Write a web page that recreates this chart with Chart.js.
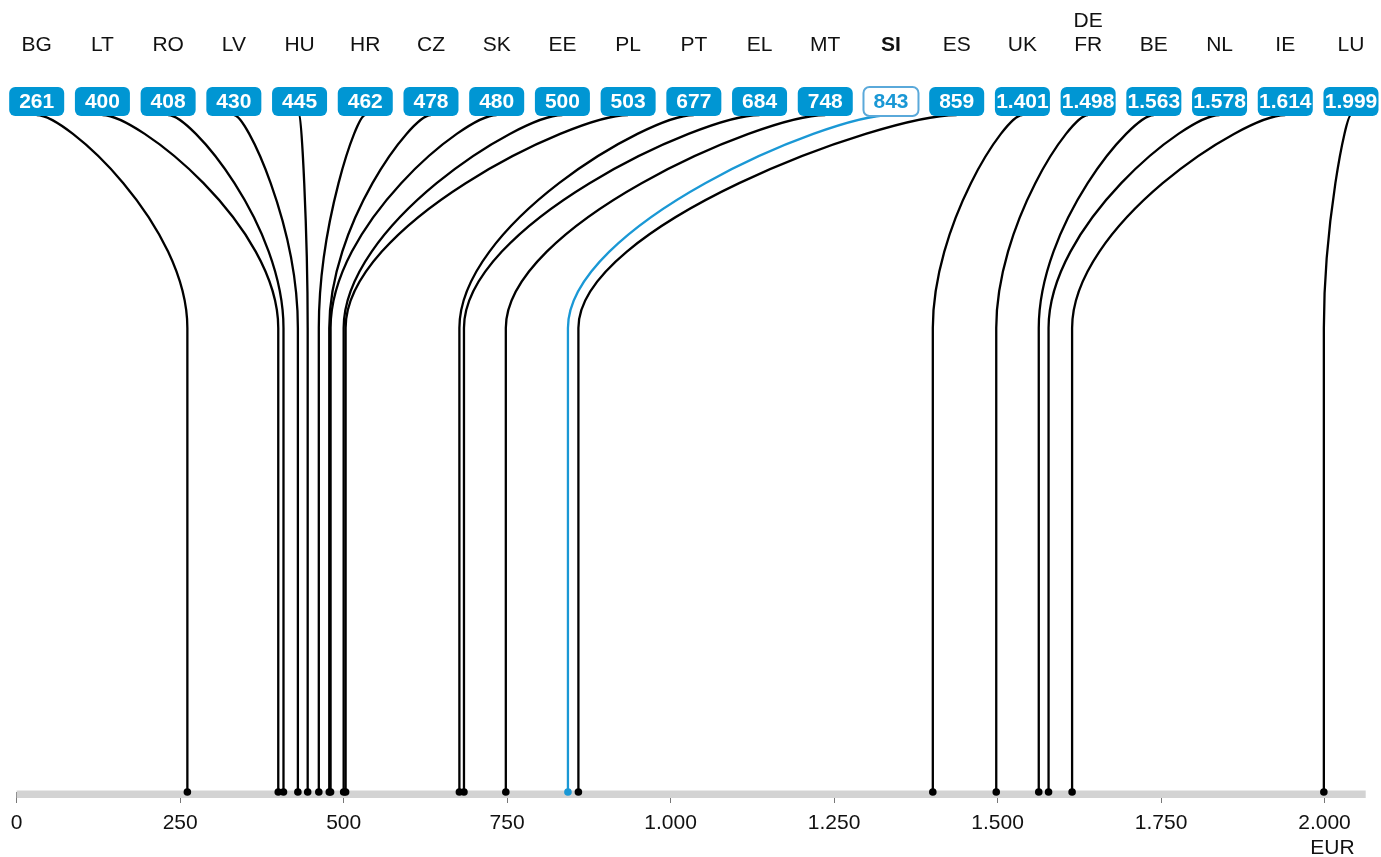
<!DOCTYPE html>
<html>
<head>
<meta charset="utf-8">
<script src="https://cdn.jsdelivr.net/npm/chart.js@4.4.1/dist/chart.umd.min.js"></script>
<style>
  html, body { margin: 0; padding: 0; background: #fff; }
  #chart { display: block; }
</style>
</head>
<body>
<canvas id="chart" width="1381" height="857"></canvas>
<script>
// data
const countries = ['BG', 'LT', 'RO', 'LV', 'HU', 'HR', 'CZ', 'SK', 'EE', 'PL', 'PT', 'EL', 'MT', 'SI', 'ES', 'UK', 'DE/FR', 'BE', 'NL', 'IE', 'LU'];
const values = [261, 400, 408, 430, 445, 462, 478, 480, 500, 503, 677, 684, 748, 843, 859, 1401, 1498, 1563, 1578, 1614, 1999];
const xTicks = [0, 250, 500, 750, 1000, 1250, 1500, 1750, 2000];
const highlight = 'SI';
const unit = 'EUR';

const AXIS_MAX = 2063;
const BLUE = '#0096d3';
const LINE_BLUE = '#1a98d5';
const FONT = 'Liberation Sans, Arial, sans-serif';

// layout of the top rows (pixels)
const LABEL_Y = 45;
const LABEL_LINE = 24;
const BADGE_TOP = 87;
const BADGE_H = 29;
const BADGE_W = 55;
const CURVE_TOP = 115;
const KNEE_Y = 328;

const fmt = v => String(v).replace(/\B(?=(\d{3})+(?!\d))/g, '.');

const curvesPlugin = {
  id: 'curves',
  beforeDatasetsDraw(chart) {
    const ctx = chart.ctx;
    const x = chart.scales.x;
    const slot = chart.scales.slot;
    const bottom = chart.chartArea.bottom;
    ctx.save();

    // grey axis band
    ctx.fillStyle = '#d3d3d3';
    const x0 = x.getPixelForValue(0);
    ctx.fillRect(x0, bottom - 1.5, x.getPixelForValue(AXIS_MAX) - x0, 7.5);

    // connector lines
    values.forEach((v, i) => {
      const bx = slot.getPixelForValue(i);
      const vx = x.getPixelForValue(v);
      const dx = vx - bx, dy = KNEE_Y - CURVE_TOP;
      ctx.beginPath();
      ctx.moveTo(bx, CURVE_TOP);
      ctx.bezierCurveTo(bx + 0.2 * dx, CURVE_TOP, vx, CURVE_TOP + 0.52 * dy, vx, KNEE_Y);
      ctx.lineTo(vx, bottom);
      ctx.strokeStyle = countries[i] === highlight ? LINE_BLUE : '#000';
      ctx.lineWidth = 2.3;
      ctx.stroke();
    });

    // badges + country labels
    ctx.textAlign = 'center';
    ctx.textBaseline = 'middle';
    values.forEach((v, i) => {
      const bx = slot.getPixelForValue(i);
      const hi = countries[i] === highlight;
      ctx.beginPath();
      ctx.roundRect(bx - BADGE_W / 2, BADGE_TOP, BADGE_W, BADGE_H, 6);
      if (hi) {
        ctx.fillStyle = '#fff';
        ctx.fill();
        ctx.strokeStyle = '#5aa9da';
        ctx.lineWidth = 2;
        ctx.stroke();
      } else {
        ctx.fillStyle = BLUE;
        ctx.fill();
      }
      ctx.fillStyle = hi ? LINE_BLUE : '#fff';
      ctx.font = 'bold 21px ' + FONT;
      ctx.fillText(fmt(v), bx, BADGE_TOP + BADGE_H / 2 + 1, BADGE_W - 2);

      const lines = countries[i].split('/');
      ctx.fillStyle = '#111';
      ctx.font = (hi ? 'bold ' : '') + '21px ' + FONT;
      lines.forEach((t, k) => {
        ctx.fillText(t, bx, LABEL_Y - (lines.length - 1 - k) * LABEL_LINE);
      });
    });
    ctx.restore();
  },
  afterDraw(chart) {
    const ctx = chart.ctx;
    const x = chart.scales.x;
    ctx.save();
    ctx.font = '21px ' + FONT;
    ctx.fillStyle = '#111';
    ctx.textAlign = 'center';
    ctx.textBaseline = 'middle';
    ctx.fillText(unit, x.getPixelForValue(xTicks[xTicks.length - 1]) + 8, 848);
    ctx.restore();
  }
};

new Chart(document.getElementById('chart'), {
  type: 'scatter',
  data: {
    datasets: [{
      data: values.map(v => ({ x: v, y: 0 })),
      pointRadius: 3.8,
      pointBorderWidth: 0,
      pointBackgroundColor: countries.map(c => c === highlight ? LINE_BLUE : '#000'),
      clip: false
    }]
  },
  options: {
    responsive: false,
    animation: false,
    devicePixelRatio: 1,
    events: [],
    layout: { padding: { left: 16.7, right: 15.3, top: 0, bottom: 0 } },
    plugins: { legend: { display: false }, tooltip: { enabled: false } },
    scales: {
      x: {
        type: 'linear',
        min: 0,
        max: AXIS_MAX,
        afterBuildTicks: s => { s.ticks = xTicks.map(v => ({ value: v })); },
        afterFit: s => { s.height = 65; },
        border: { display: false },
        grid: { drawOnChartArea: false, drawTicks: true, tickLength: 11, color: '#777', lineWidth: 1 },
        ticks: {
          font: { family: FONT, size: 21 },
          color: '#111',
          padding: 8,
          maxRotation: 0,
          autoSkip: false,
          callback: v => fmt(v)
        }
      },
      slot: {
        type: 'linear',
        axis: 'x',
        display: false,
        min: -0.3043,
        max: 20.224
      },
      y: { display: false, min: 0, max: 1 }
    }
  },
  plugins: [curvesPlugin]
});
</script>
</body>
</html>
